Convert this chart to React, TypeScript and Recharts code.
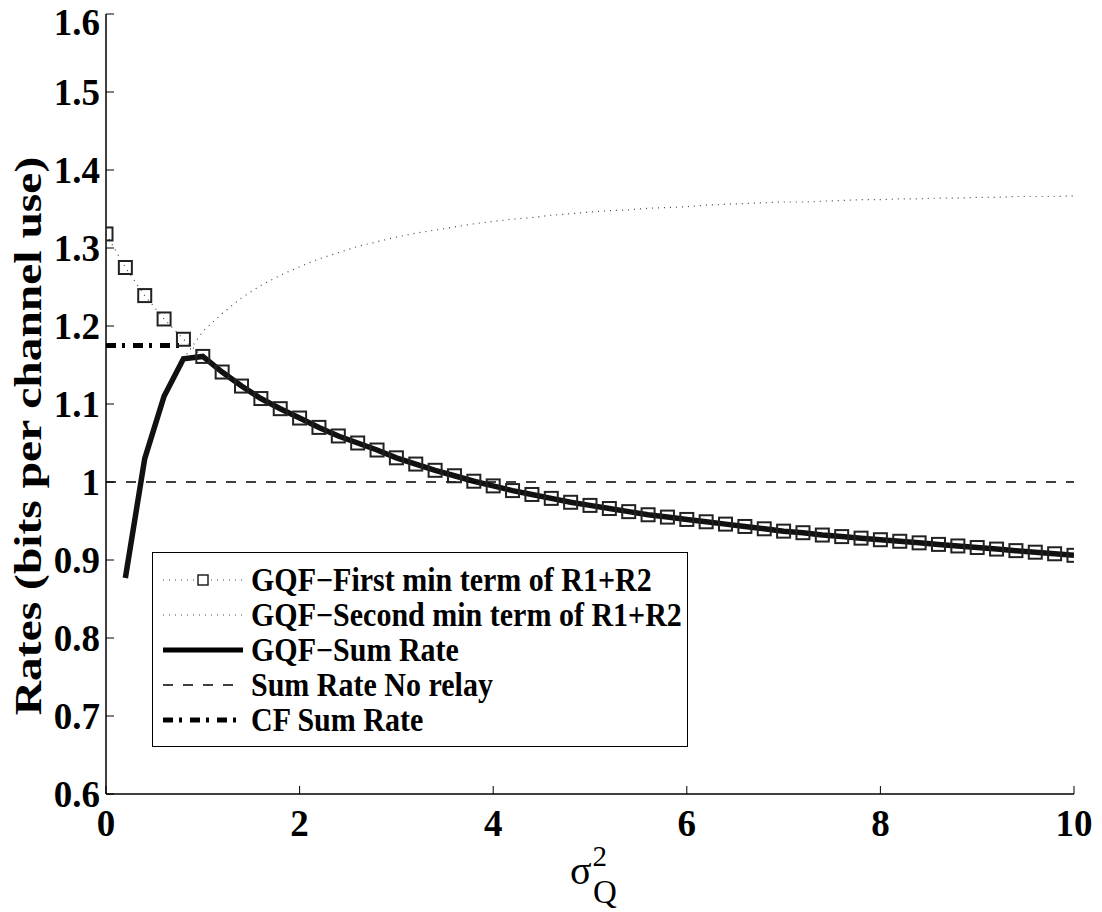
import React from 'react';
import { LineChart, Line, XAxis, YAxis, Legend } from 'recharts';

const xValues = [
  0, 0.2, 0.4, 0.6, 0.8, 1.0, 1.2, 1.4, 1.6, 1.8,
  2.0, 2.2, 2.4, 2.6, 2.8, 3.0, 3.2, 3.4, 3.6, 3.8,
  4.0, 4.2, 4.4, 4.6, 4.8, 5.0, 5.2, 5.4, 5.6, 5.8,
  6.0, 6.2, 6.4, 6.6, 6.8, 7.0, 7.2, 7.4, 7.6, 7.8,
  8.0, 8.2, 8.4, 8.6, 8.8, 9.0, 9.2, 9.4, 9.6, 9.8, 10.0,
];

const firstMinTerm = [
  1.318, 1.275, 1.239, 1.209, 1.183, 1.161, 1.141, 1.123, 1.107, 1.094,
  1.082, 1.070, 1.059, 1.050, 1.041, 1.031, 1.023, 1.015, 1.008, 1.001,
  0.995, 0.989, 0.984, 0.979, 0.974, 0.970, 0.966, 0.962, 0.958, 0.955,
  0.952, 0.949, 0.946, 0.943, 0.940, 0.937, 0.935, 0.932, 0.930, 0.928,
  0.926, 0.924, 0.922, 0.920, 0.918, 0.916, 0.914, 0.912, 0.910, 0.908, 0.906,
];

const secondMinTerm = [
  null, 0.877, 1.030, 1.110, 1.158, 1.193, 1.216, 1.236, 1.252, 1.265,
  1.276, 1.286, 1.294, 1.302, 1.308, 1.314, 1.319, 1.323, 1.327, 1.331,
  1.334, 1.337, 1.339, 1.342, 1.344, 1.346, 1.348, 1.349, 1.351, 1.352,
  1.353, 1.355, 1.356, 1.357, 1.358, 1.359, 1.359, 1.360, 1.361, 1.362,
  1.362, 1.363, 1.363, 1.364, 1.364, 1.365, 1.365, 1.366, 1.366, 1.366, 1.367,
];

const sumRate = [
  null, 0.877, 1.030, 1.110, 1.158, 1.161, 1.141, 1.123, 1.107, 1.094,
  1.082, 1.070, 1.059, 1.050, 1.041, 1.031, 1.023, 1.015, 1.008, 1.001,
  0.995, 0.989, 0.984, 0.979, 0.974, 0.970, 0.966, 0.962, 0.958, 0.955,
  0.952, 0.949, 0.946, 0.943, 0.940, 0.937, 0.935, 0.932, 0.930, 0.928,
  0.926, 0.924, 0.922, 0.920, 0.918, 0.916, 0.914, 0.912, 0.910, 0.908, 0.906,
];

const cfSumRate = [1.175, 1.175, 1.175, 1.175, 1.175];

const noRelayRate = 1.0;

const xTicks = [0, 2, 4, 6, 8, 10];
const yTicks = [0.6, 0.7, 0.8, 0.9, 1, 1.1, 1.2, 1.3, 1.4, 1.5, 1.6];

const seriesNames = [
  'GQF\u2212First min term of R1+R2',
  'GQF\u2212Second min term of R1+R2',
  'GQF\u2212Sum Rate',
  'Sum Rate No relay',
  'CF Sum Rate',
];

const data = xValues.map((x, i) => ({
  x,
  first: firstMinTerm[i],
  second: secondMinTerm[i],
  sum: sumRate[i],
  noRelay: noRelayRate,
  cf: i < cfSumRate.length ? cfSumRate[i] : null,
}));

const FONT = '"Liberation Serif", "Times New Roman", serif';

const tickStyle = { fontFamily: FONT, fontWeight: 'bold', fontSize: 37, fill: '#000' };

const SquareDot = (props: any) => {
  const { cx, cy, index } = props;
  if (cx == null || cy == null || Number.isNaN(cx) || Number.isNaN(cy)) return <g key={`sq-${index}`} />;
  return (
    <rect
      key={`sq-${index}`}
      x={cx - 6.5}
      y={cy - 6.5}
      width={13}
      height={13}
      fill="none"
      stroke="#222"
      strokeWidth={2}
    />
  );
};

const XLabel = (props: any) => {
  const { x, y, width } = props.viewBox;
  const cx = x + width / 2;
  return (
    <text x={cx - 20} y={y + 90} fontFamily={FONT} fontSize={40} fill="#000">
      σ
      <tspan fontSize={29} dx={1} dy={-18}>2</tspan>
      <tspan fontSize={33} dx={-14} dy={37}>Q</tspan>
    </text>
  );
};

const YLabel = (props: any) => {
  const { x } = props.viewBox;
  const tx = x + 2;
  const ty = 436;
  return (
    <text
      x={0}
      y={0}
      transform={`translate(${tx} ${ty}) scale(1 1.25) rotate(-90)`}
      textAnchor="middle"
      dominantBaseline="central"
      fontFamily={FONT}
      fontWeight="bold"
      fontSize={38}
      fill="#000"
    >
      Rates (bits per channel use)
    </text>
  );
};

const LegendSample = ({ kind }: { kind: number }) => {
  const common = { x1: 2, x2: 82, y1: 12, y2: 12, stroke: '#000' } as any;
  return (
    <svg width={84} height={24} style={{ flex: 'none' }}>
      {kind === 0 && (
        <>
          <line {...common} strokeWidth={1.2} strokeDasharray="1 5" stroke="#444" />
          <rect x={37} y={7} width={10} height={10} fill="#fff" stroke="#222" strokeWidth={1.5} />
        </>
      )}
      {kind === 1 && <line {...common} strokeWidth={1.2} strokeDasharray="1 5" stroke="#444" />}
      {kind === 2 && <line {...common} strokeWidth={5} />}
      {kind === 3 && <line {...common} strokeWidth={1.5} strokeDasharray="10 10" />}
      {kind === 4 && <line {...common} strokeWidth={5} strokeDasharray="10 6 3 8" />}
    </svg>
  );
};

const LegendBox = () => (
  <div
    style={{
      border: '1.5px solid #000',
      background: '#fff',
      width: 536,
      height: 195,
      boxSizing: 'border-box',
      padding: '9px 0 0 8px',
      fontFamily: FONT,
      fontWeight: 'bold',
      fontSize: 30,
      color: '#000',
    }}
  >
    {seriesNames.map((name, i) => (
      <div key={name} style={{ display: 'flex', alignItems: 'center', height: 35, whiteSpace: 'nowrap' }}>
        <LegendSample kind={i} />
        <span
          style={{
            marginLeft: 6,
            lineHeight: '35px',
            display: 'inline-block',
            transform: 'scaleY(1.1)',
          }}
        >
          {name}
        </span>
      </div>
    ))}
  </div>
);

export default function App() {
  return (
    <div style={{ position: 'absolute', left: 0, top: 0, width: 1102, height: 912, background: '#fff' }}>
      <LineChart
        width={1102}
        height={912}
        data={data}
        margin={{ top: 14, right: 28, bottom: 18, left: 26 }}
      >
        <XAxis
          xAxisId="b"
          type="number"
          dataKey="x"
          domain={[0, 10]}
          ticks={xTicks}
          allowDataOverflow
          height={100}
          tickSize={-8}
          tickMargin={24}
          tick={tickStyle}
          axisLine={{ stroke: '#000', strokeWidth: 1.5 }}
          tickLine={{ stroke: '#000', strokeWidth: 1 }}
          label={<XLabel />}
        />
        <XAxis
          xAxisId="t"
          orientation="top"
          type="number"
          dataKey="x"
          domain={[0, 10]}
          ticks={xTicks}
          allowDataOverflow
          height={0}
          tickSize={-8}
          tick={false}
          axisLine={{ stroke: '#000', strokeWidth: 1.5 }}
          tickLine={{ stroke: '#000', strokeWidth: 1 }}
        />
        <YAxis
          yAxisId="l"
          type="number"
          domain={[0.6, 1.6]}
          ticks={yTicks}
          allowDataOverflow
          width={80}
          tickSize={-8}
          tickMargin={14}
          tick={tickStyle}
          tickFormatter={(v: number) => String(v)}
          axisLine={{ stroke: '#000', strokeWidth: 1.5 }}
          tickLine={{ stroke: '#000', strokeWidth: 1 }}
          label={<YLabel />}
        />
        <YAxis
          yAxisId="r"
          orientation="right"
          type="number"
          domain={[0.6, 1.6]}
          ticks={yTicks}
          allowDataOverflow
          width={0}
          tickSize={-8}
          tick={false}
          axisLine={{ stroke: '#000', strokeWidth: 1.5 }}
          tickLine={{ stroke: '#000', strokeWidth: 1 }}
        />
        <Line
          xAxisId="b"
          yAxisId="l"
          dataKey="first"
          name={seriesNames[0]}
          stroke="#444"
          strokeWidth={1.2}
          strokeDasharray="1 5"
          dot={SquareDot}
          isAnimationActive={false}
        />
        <Line
          xAxisId="b"
          yAxisId="l"
          dataKey="second"
          name={seriesNames[1]}
          stroke="#444"
          strokeWidth={1.2}
          strokeDasharray="1 5"
          dot={false}
          isAnimationActive={false}
        />
        <Line
          xAxisId="b"
          yAxisId="l"
          dataKey="sum"
          name={seriesNames[2]}
          stroke="#111"
          strokeWidth={5.5}
          dot={false}
          isAnimationActive={false}
        />
        <Line
          xAxisId="b"
          yAxisId="l"
          dataKey="noRelay"
          name={seriesNames[3]}
          stroke="#000"
          strokeWidth={1.5}
          strokeDasharray="10 10"
          dot={false}
          isAnimationActive={false}
        />
        <Line
          xAxisId="b"
          yAxisId="l"
          dataKey="cf"
          name={seriesNames[4]}
          stroke="#000"
          strokeWidth={5}
          strokeDasharray="10 6 3 8"
          dot={false}
          isAnimationActive={false}
        />
        <Legend
          layout="vertical"
          align="center"
          verticalAlign="middle"
          content={() => <LegendBox />}
          wrapperStyle={{ left: 152, top: 552, width: 536, height: 195 }}
        />
      </LineChart>
    </div>
  );
}
